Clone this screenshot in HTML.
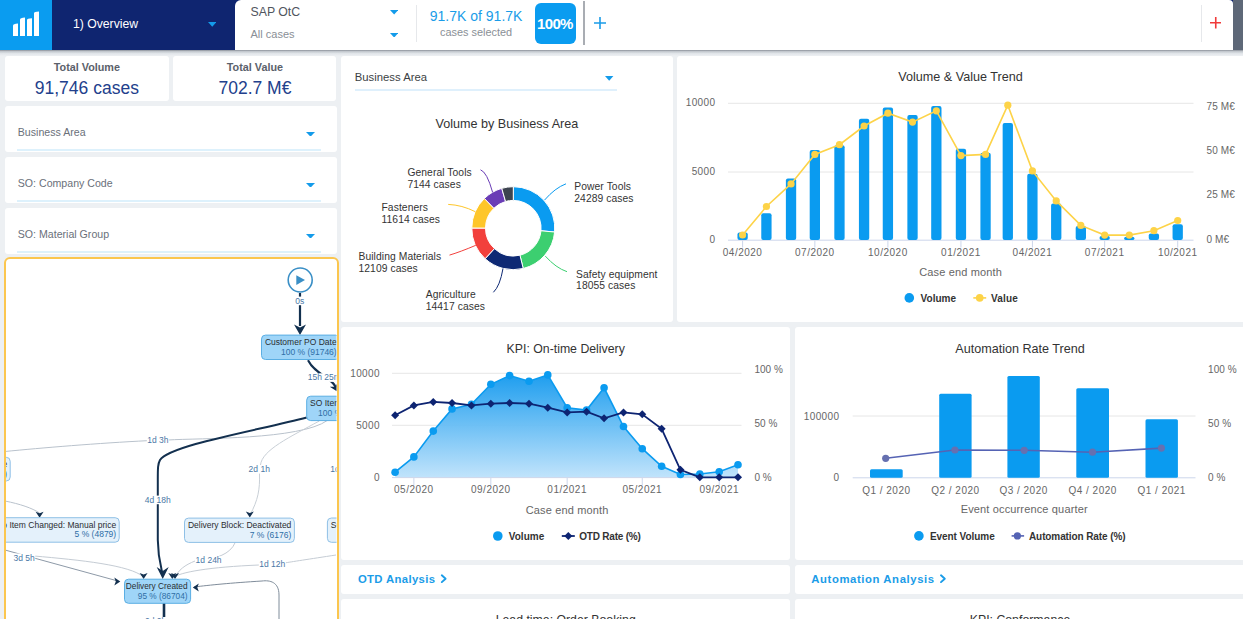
<!DOCTYPE html><html><head><meta charset="utf-8"><style>
*{margin:0;padding:0;box-sizing:border-box}
html,body{width:1243px;height:619px;overflow:hidden;background:#edf0f3;font-family:"Liberation Sans", sans-serif}
.a{position:absolute}
.card{position:absolute;background:#fff;border-radius:4px}
.t{position:absolute;white-space:nowrap;line-height:1}
svg text{font-family:"Liberation Sans", sans-serif}
</style></head><body>
<div class="card" style="left:5px;top:55.5px;width:163.7px;height:45.8px;border-radius:3px;"></div>
<div class="card" style="left:173.4px;top:55.5px;width:163.1px;height:45.8px;border-radius:3px;"></div>
<div class="card" style="left:5px;top:105.7px;width:331.5px;height:46.10000000000001px;border-radius:3px;"></div>
<div class="card" style="left:5px;top:157.4px;width:331.5px;height:45.599999999999994px;border-radius:3px;"></div>
<div class="card" style="left:5px;top:208px;width:331.5px;height:45.80000000000001px;border-radius:3px;"></div>
<div class="a" style="left:4px;top:257px;width:334.5px;height:380px;border:2px solid #fbc64f;border-radius:6px;background:#fff;overflow:hidden"></div>
<div class="card" style="left:341.2px;top:55.5px;width:331.59999999999997px;height:266.3px;border-radius:3px;"></div>
<div class="card" style="left:677.3px;top:55.5px;width:572.7px;height:266.3px;border-radius:3px;"></div>
<div class="card" style="left:341.2px;top:326.8px;width:449.00000000000006px;height:232.99999999999994px;border-radius:3px;"></div>
<div class="card" style="left:795.3px;top:326.8px;width:454.70000000000005px;height:232.99999999999994px;border-radius:3px;"></div>
<div class="card" style="left:341.2px;top:564.5px;width:449.00000000000006px;height:29.299999999999955px;border-radius:3px;"></div>
<div class="card" style="left:795.3px;top:564.5px;width:454.70000000000005px;height:29.299999999999955px;border-radius:3px;"></div>
<div class="card" style="left:341.2px;top:598.5px;width:449.00000000000006px;height:41.5px;border-radius:3px;"></div>
<div class="card" style="left:795.3px;top:598.5px;width:454.70000000000005px;height:41.5px;border-radius:3px;"></div>
<div class="a" style="left:0;top:0;width:1243px;height:50px;background:#0f2570"></div>
<div class="a" style="left:1233px;top:0;width:10px;height:50px;background:#5e6878"></div>
<div class="a" style="left:0;top:0;width:52px;height:50px;background:#0a9cf0"></div>
<div class="a" style="left:234.5px;top:0;width:998.5px;height:50px;background:#fff;border-radius:6px 4px 0 0"></div>
<div class="a" style="left:0;top:49.5px;width:1243px;height:6px;background:linear-gradient(#8a9099 0%,#c3c8ce 25%,#e2e6ea 60%,rgba(237,240,243,0) 100%)"></div>
<svg class="a" style="left:0;top:0" width="52" height="50" viewBox="0 0 52 50">
<path d="M13 25.5 Q13 24 18 23.6 L18 36 L13 36 Z" fill="#fff"/>
<path d="M20 19.5 Q20 18 25 17.6 L25 36 L20 36 Z" fill="#fff"/>
<path d="M27 20 Q27 18.6 32 18.3 L32 36 L27 36 Z" fill="#fff"/>
<path d="M34 13 Q34 11.8 39 11.4 L39 36 L34 36 Z" fill="#fff"/>
</svg>
<div class="t" style="left:73px;top:17.5px;font-size:12.2px;color:#fff">1) Overview</div>
<svg class="a" style="left:207.7px;top:21.9px" width="8.5" height="4.8"><path d="M0 0 L8.5 0 L4.25 4.8 Z" fill="#149bea"/></svg>
<div class="t" style="left:250.5px;top:6.2px;font-size:12.3px;color:#50555e">SAP OtC</div>
<div class="t" style="left:250.5px;top:29.1px;font-size:11px;color:#8a8f96">All cases</div>
<svg class="a" style="left:389.8px;top:10px" width="8.3" height="4.6"><path d="M0 0 L8.3 0 L4.15 4.6 Z" fill="#149bea"/></svg>
<svg class="a" style="left:389.8px;top:32.7px" width="8.3" height="4.6"><path d="M0 0 L8.3 0 L4.15 4.6 Z" fill="#149bea"/></svg>
<div class="a" style="left:416px;top:5px;width:1px;height:37px;background:#e6e8eb"></div>
<div class="t" style="left:429.8px;top:9px;font-size:14px;color:#1a9ce8">91.7K of 91.7K</div>
<div class="t" style="left:440px;top:27px;font-size:10.9px;color:#8a8f96">cases selected</div>
<div class="a" style="left:534.7px;top:3px;width:41.3px;height:41px;background:#0a9cf0;border-radius:6px"></div>
<div class="t" style="left:537px;top:15.6px;font-size:15px;font-weight:700;color:#fff;letter-spacing:-0.65px">100%</div>
<div class="a" style="left:583px;top:1px;width:1.6px;height:44px;background:#a9adb3"></div>
<svg class="a" style="left:594px;top:17px" width="12" height="12"><path d="M6 0V12M0 6H12" stroke="#1a9ce8" stroke-width="1.6"/></svg>
<div class="a" style="left:1200.5px;top:5px;width:1px;height:37px;background:#e6e8eb"></div>
<svg class="a" style="left:1209.5px;top:17.2px" width="11.5" height="11.5"><path d="M5.75 0V11.5M0 5.75H11.5" stroke="#f03a3a" stroke-width="1.6"/></svg>
<div class="t" style="left:5px;width:163.7px;text-align:center;top:61.5px;font-size:10.8px;font-weight:700;color:#5b616b">Total Volume</div>
<div class="t" style="left:5px;width:163.7px;text-align:center;top:80px;font-size:17.5px;color:#22408c">91,746 cases</div>
<div class="t" style="left:173.4px;width:163.1px;text-align:center;top:61.5px;font-size:10.8px;font-weight:700;color:#5b616b">Total Value</div>
<div class="t" style="left:173.4px;width:163.1px;text-align:center;top:80px;font-size:17.5px;color:#22408c">702.7 M€</div>
<div class="t" style="left:17.8px;top:127.1px;font-size:10.6px;color:#6a707a">Business Area</div>
<div class="t" style="left:17.8px;top:178.1px;font-size:10.6px;color:#6a707a">SO: Company Code</div>
<div class="t" style="left:17.8px;top:229.1px;font-size:10.6px;color:#6a707a">SO: Material Group</div>
<div class="a" style="left:17px;top:149px;width:303.5px;height:1.5px;background:#ddf1fc"></div>
<svg class="a" style="left:305.7px;top:131.7px" width="9" height="4.7"><path d="M0 0 L9 0 L4.5 4.7 Z" fill="#149bea"/></svg>
<div class="a" style="left:17px;top:200.3px;width:303.5px;height:1.5px;background:#ddf1fc"></div>
<svg class="a" style="left:305.7px;top:182.7px" width="9" height="4.7"><path d="M0 0 L9 0 L4.5 4.7 Z" fill="#149bea"/></svg>
<div class="a" style="left:17px;top:251px;width:303.5px;height:1.5px;background:#ddf1fc"></div>
<svg class="a" style="left:305.7px;top:233.7px" width="9" height="4.7"><path d="M0 0 L9 0 L4.5 4.7 Z" fill="#149bea"/></svg>
<div class="t" style="left:354.8px;top:72px;font-size:11.3px;color:#3c3f44">Business Area</div>
<div class="a" style="left:354.5px;top:89.3px;width:262px;height:1.5px;background:#dff0fc"></div>
<svg class="a" style="left:605.2px;top:76.2px" width="8.4" height="4.8"><path d="M0 0 L8.4 0 L4.2 4.8 Z" fill="#149bea"/></svg>
<div class="t" style="left:341.2px;width:331.3px;text-align:center;top:117.7px;font-size:12.6px;color:#333">Volume by Business Area</div>
<svg class="a" style="left:0;top:0" width="1243" height="619" viewBox="0 0 1243 619"><defs><clipPath id="pmc"><rect x="6" y="259" width="330.5" height="400" rx="4"/></clipPath></defs><g clip-path="url(#pmc)"><path d="M327.4 420.4 C300 440 200 438 167.8 440" fill="none" stroke="#b9c2cc" stroke-width="1"/><path d="M147.3 440.7 C100 443 40 448 5 451.5" fill="none" stroke="#b9c2cc" stroke-width="1"/><path d="M319.3 421 C290 437 262 450 260.5 465 M259.5 473 C260 490 258 500 250 515" fill="none" stroke="#c8cfd6" stroke-width="1"/><path d="M5 501 C20 504 32 508 39.6 513" fill="none" stroke="#b9c2cc" stroke-width="1"/><path d="M5 550 L34 558 L116 580.5" fill="none" stroke="#8e9aa8" stroke-width="1"/><path d="M34 556 C80 560 130 565 143.6 577" fill="none" stroke="#c5ccd4" stroke-width="1"/><path d="M235.2 542.5 C230 555 215 558 205 560 M195 561 C185 565 178 570 175 578" fill="none" stroke="#c5ccd4" stroke-width="1"/><path d="M336 555 C310 559 290 562 284.5 563 M259 565 C210 567 180 572 172.3 578" fill="none" stroke="#c5ccd4" stroke-width="1"/><path d="M279 619 L279 595 C279 582 270 580 262 581 C230 583 210 585 194 587" fill="none" stroke="#7f8c9a" stroke-width="1"/><path d="M300 293 L300 326" fill="none" stroke="#13304f" stroke-width="2.2"/><path d="M294 324.4 L300 335 L306 324.4 L300 327.5 Z" fill="#13304f"/><path d="M308 360.3 C312 368 318 372 324 376 C331 381 334 383 335.5 387" fill="none" stroke="#13304f" stroke-width="2.1"/><path d="M0 0 L-4.5 -7 L0 -5 L4.5 -7 Z" transform="translate(336.8,391.3) rotate(-25)" fill="#13304f"/><path d="M306.7 417.5 C260 430 170 445 160 460 C157.8 464 157.8 468 157.8 480 L157.8 540 C158 560 162 570 162.7 575" fill="none" stroke="#13304f" stroke-width="2"/><path d="M156.7 567 L162.7 579 L168.7 567 L162.7 571 Z" fill="#13304f"/><path d="M164 603 L164 625" fill="none" stroke="#13304f" stroke-width="2.6"/><path d="M0 0 L-4 -6 L0 -4.5 L4 -6 Z" transform="translate(39.6,517.7) rotate(0)" fill="#13304f"/><path d="M0 0 L-4 -6 L0 -4.5 L4 -6 Z" transform="translate(249.8,517.5) rotate(0)" fill="#13304f"/><path d="M0 0 L-4 -6 L0 -4.5 L4 -6 Z" transform="translate(120.3,581.4) rotate(-90)" fill="#13304f"/><path d="M0 0 L-4 -6 L0 -4.5 L4 -6 Z" transform="translate(143.6,579) rotate(0)" fill="#13304f"/><path d="M0 0 L-4 -6 L0 -4.5 L4 -6 Z" transform="translate(175,579) rotate(0)" fill="#13304f"/><path d="M0 0 L-4 -6 L0 -4.5 L4 -6 Z" transform="translate(172.3,579) rotate(0)" fill="#13304f"/><path d="M0 0 L-4 -6 L0 -4.5 L4 -6 Z" transform="translate(192.8,587.4) rotate(90)" fill="#13304f"/><rect x="294.81" y="296.6" width="9.98" height="8.6" fill="#fff"/><text x="299.8" y="303.6" font-size="8.5" fill="#4b78a6" text-anchor="middle">0s</text><rect x="307.20" y="373.3" width="34.08" height="8.6" fill="#fff"/><text x="307.7" y="380.3" font-size="8.5" fill="#4b78a6" text-anchor="start">15h 25m</text><rect x="146.80" y="436" width="22.27" height="8.6" fill="#fff"/><text x="147.3" y="443" font-size="8.5" fill="#4b78a6" text-anchor="start">1d 3h</text><rect x="248.10" y="465" width="22.27" height="8.6" fill="#fff"/><text x="248.6" y="472" font-size="8.5" fill="#4b78a6" text-anchor="start">2d 1h</text><rect x="329.80" y="464.5" width="27.00" height="8.6" fill="#fff"/><text x="330.3" y="471.5" font-size="8.5" fill="#4b78a6" text-anchor="start">1d 10h</text><rect x="144.30" y="495.6" width="27.00" height="8.6" fill="#fff"/><text x="144.8" y="502.6" font-size="8.5" fill="#4b78a6" text-anchor="start">4d 18h</text><rect x="13.00" y="553.5" width="22.27" height="8.6" fill="#fff"/><text x="13.5" y="560.5" font-size="8.5" fill="#4b78a6" text-anchor="start">3d 5h</text><rect x="195.10" y="556.4" width="27.00" height="8.6" fill="#fff"/><text x="195.6" y="563.4" font-size="8.5" fill="#4b78a6" text-anchor="start">1d 24h</text><rect x="258.80" y="560" width="27.00" height="8.6" fill="#fff"/><text x="259.3" y="567" font-size="8.5" fill="#4b78a6" text-anchor="start">1d 12h</text><circle cx="300.2" cy="280" r="12" fill="#fff" stroke="#3a8fc6" stroke-width="1.6"/><path d="M296.3 275.2 L305 280 L296.3 285 Z" fill="#3a8fc6"/><rect x="261.5" y="335.1" width="78.20" height="24.4" rx="4" fill="#9fd5f8" stroke="#5aaee3" stroke-width="1"/><text x="336.70" y="345.20000000000005" font-size="8.5" fill="#2a2d31" text-anchor="end">Customer PO Date</text><text x="336.70" y="354.6" font-size="8.5" fill="#2f6ea6" text-anchor="end">100 % (91746)</text><rect x="306.7" y="396.2" width="70.18" height="24.4" rx="4" fill="#9fd5f8" stroke="#5aaee3" stroke-width="1"/><text x="373.88" y="406.3" font-size="8.5" fill="#2a2d31" text-anchor="end">SO Item Created</text><text x="373.88" y="415.7" font-size="8.5" fill="#2f6ea6" text-anchor="end">100 % (91746)</text><rect x="-60" y="457.3" width="70.20" height="23.7" rx="4" fill="#e4f1fb" stroke="#8fc0e6" stroke-width="1"/><text x="7.20" y="467.40000000000003" font-size="8.5" fill="#2a2d31" text-anchor="end">Item Changed: Price</text><text x="7.20" y="476.8" font-size="8.5" fill="#2f6ea6" text-anchor="end">5 % (4200)</text><rect x="-10" y="517.7" width="129.20" height="24.5" rx="4" fill="#e4f1fb" stroke="#8fc0e6" stroke-width="1"/><text x="116.20" y="527.8000000000001" font-size="8.5" fill="#2a2d31" text-anchor="end">o Item Changed: Manual price</text><text x="116.20" y="537.2" font-size="8.5" fill="#2f6ea6" text-anchor="end">5 % (4879)</text><rect x="184.5" y="518.1" width="109.86" height="24.3" rx="4" fill="#e4f1fb" stroke="#8fc0e6" stroke-width="1"/><text x="291.36" y="528.2" font-size="8.5" fill="#2a2d31" text-anchor="end">Delivery Block: Deactivated</text><text x="291.36" y="537.6" font-size="8.5" fill="#2f6ea6" text-anchor="end">7 % (6176)</text><rect x="327.4" y="518" width="109.86" height="24.3" rx="4" fill="#e4f1fb" stroke="#8fc0e6" stroke-width="1"/><text x="434.26" y="528.1" font-size="8.5" fill="#2a2d31" text-anchor="end">SO Item Changed: Delivery</text><text x="434.26" y="537.5" font-size="8.5" fill="#2f6ea6" text-anchor="end">5 % (4000)</text><rect x="124.5" y="579.2" width="66.10" height="24.1" rx="4" fill="#9fd5f8" stroke="#5aaee3" stroke-width="1"/><text x="187.60" y="589.3000000000001" font-size="8.3" fill="#2a2d31" text-anchor="end">Delivery Created</text><text x="187.60" y="598.7" font-size="8.3" fill="#2f6ea6" text-anchor="end">95 % (86704)</text><rect x="144.50" y="617" width="22.27" height="8.6" fill="#fff"/><text x="145" y="624" font-size="8.5" fill="#4b78a6" text-anchor="start">0d 0h</text></g></svg>
<svg class="a" style="left:0;top:0" width="1243" height="619" viewBox="0 0 1243 619"><path d="M513.30 186.70 A41.5 41.5 0 0 1 554.62 232.04 L540.98 230.77 A27.8 27.8 0 0 0 513.30 200.40 Z" fill="#0a9bf0" stroke="#fff" stroke-width="1"/><path d="M554.62 232.04 A41.5 41.5 0 0 1 523.23 268.49 L519.95 255.19 A27.8 27.8 0 0 0 540.98 230.77 Z" fill="#3ccf70" stroke="#fff" stroke-width="1"/><path d="M523.23 268.49 A41.5 41.5 0 0 1 485.14 258.69 L494.44 248.62 A27.8 27.8 0 0 0 519.95 255.19 Z" fill="#0e2974" stroke="#fff" stroke-width="1"/><path d="M485.14 258.69 A41.5 41.5 0 0 1 471.80 228.03 L485.50 228.08 A27.8 27.8 0 0 0 494.44 248.62 Z" fill="#f2403c" stroke="#fff" stroke-width="1"/><path d="M471.80 228.03 A41.5 41.5 0 0 1 484.37 198.44 L493.92 208.27 A27.8 27.8 0 0 0 485.50 228.08 Z" fill="#fec62a" stroke="#fff" stroke-width="1"/><path d="M484.37 198.44 A41.5 41.5 0 0 1 501.75 188.34 L505.56 201.50 A27.8 27.8 0 0 0 493.92 208.27 Z" fill="#6a3db6" stroke="#fff" stroke-width="1"/><path d="M501.75 188.34 A41.5 41.5 0 0 1 513.30 186.70 L513.30 200.40 A27.8 27.8 0 0 0 505.56 201.50 Z" fill="#3d4450" stroke="#fff" stroke-width="1"/><path d="M544.6 200 Q555 188 566 183.8" fill="none" stroke="#0a9bf0" stroke-width="1"/><path d="M545.3 256.1 Q556 268 567 271.7" fill="none" stroke="#3ccf70" stroke-width="1"/><path d="M503 268.5 Q500 286 493.4 292.3" fill="none" stroke="#0e2974" stroke-width="1"/><path d="M475.8 245.3 Q460 252 449.5 255.1" fill="none" stroke="#f2403c" stroke-width="1"/><path d="M475.3 211.7 Q462 205 448.2 204.4" fill="none" stroke="#fec62a" stroke-width="1"/><path d="M492.6 192.3 Q487 172 480.5 169.8" fill="none" stroke="#6a3db6" stroke-width="1"/><text x="574.3" y="190.2" font-size="10.3" fill="#333" letter-spacing="0.08">Power Tools</text><text x="574.3" y="201.79999999999998" font-size="10.3" fill="#333" letter-spacing="0.08">24289 cases</text><text x="576.1" y="277.6" font-size="10.3" fill="#333" letter-spacing="0.08">Safety equipment</text><text x="576.1" y="289.20000000000005" font-size="10.3" fill="#333" letter-spacing="0.08">18055 cases</text><text x="425.7" y="298.2" font-size="10.3" fill="#333" letter-spacing="0.08">Agriculture</text><text x="425.7" y="309.8" font-size="10.3" fill="#333" letter-spacing="0.08">14417 cases</text><text x="358.5" y="260" font-size="10.3" fill="#333" letter-spacing="0.08">Building Materials</text><text x="358.5" y="271.6" font-size="10.3" fill="#333" letter-spacing="0.08">12109 cases</text><text x="381.5" y="210.9" font-size="10.3" fill="#333" letter-spacing="0.08">Fasteners</text><text x="381.5" y="222.5" font-size="10.3" fill="#333" letter-spacing="0.08">11614 cases</text><text x="407.4" y="176" font-size="10.3" fill="#333" letter-spacing="0.08">General Tools</text><text x="407.4" y="187.6" font-size="10.3" fill="#333" letter-spacing="0.08">7144 cases</text><text x="960.5" y="81.2" font-size="12.6" fill="#333" text-anchor="middle">Volume &amp; Value Trend</text><line x1="728" y1="103.3" x2="1193.5" y2="103.3" stroke="#e6e6e6" stroke-width="1"/><line x1="728" y1="172" x2="1193.5" y2="172" stroke="#e6e6e6" stroke-width="1"/><line x1="728" y1="240.2" x2="1193.5" y2="240.2" stroke="#ccd6eb" stroke-width="1"/><text x="715.5" y="106.2" font-size="10" fill="#666" text-anchor="end" letter-spacing="0.4">10000</text><text x="715.5" y="174.9" font-size="10" fill="#666" text-anchor="end" letter-spacing="0.4">5000</text><text x="715.5" y="243" font-size="10" fill="#666" text-anchor="end" letter-spacing="0.4">0</text><text x="1206.5" y="110.2" font-size="10" fill="#666" letter-spacing="0.1">75 M€</text><text x="1206.5" y="154.2" font-size="10" fill="#666" letter-spacing="0.1">50 M€</text><text x="1206.5" y="198.2" font-size="10" fill="#666" letter-spacing="0.1">25 M€</text><text x="1206.5" y="242.6" font-size="10" fill="#666" letter-spacing="0.1">0 M€</text><rect x="737.45" y="232.6" width="10.3" height="7.40" rx="2" fill="#0a9bf0"/><rect x="761.27" y="213.2" width="10.3" height="26.80" rx="2" fill="#0a9bf0"/><rect x="785.88" y="178.6" width="10.3" height="61.40" rx="2" fill="#0a9bf0"/><rect x="809.70" y="150" width="10.3" height="90.00" rx="2" fill="#0a9bf0"/><rect x="834.32" y="145.2" width="10.3" height="94.80" rx="2" fill="#0a9bf0"/><rect x="858.93" y="118.7" width="10.3" height="121.30" rx="2" fill="#0a9bf0"/><rect x="882.75" y="107.6" width="10.3" height="132.40" rx="2" fill="#0a9bf0"/><rect x="907.37" y="115.1" width="10.3" height="124.90" rx="2" fill="#0a9bf0"/><rect x="931.19" y="105.9" width="10.3" height="134.10" rx="2" fill="#0a9bf0"/><rect x="955.80" y="148.8" width="10.3" height="91.20" rx="2" fill="#0a9bf0"/><rect x="980.41" y="152.7" width="10.3" height="87.30" rx="2" fill="#0a9bf0"/><rect x="1002.65" y="122.9" width="10.3" height="117.10" rx="2" fill="#0a9bf0"/><rect x="1027.26" y="173.8" width="10.3" height="66.20" rx="2" fill="#0a9bf0"/><rect x="1051.08" y="203.6" width="10.3" height="36.40" rx="2" fill="#0a9bf0"/><rect x="1075.69" y="225.9" width="10.3" height="14.10" rx="2" fill="#0a9bf0"/><rect x="1099.51" y="236" width="10.3" height="4.00" rx="2" fill="#0a9bf0"/><rect x="1124.13" y="236.8" width="10.3" height="3.20" rx="2" fill="#0a9bf0"/><rect x="1148.74" y="233.6" width="10.3" height="6.40" rx="2" fill="#0a9bf0"/><rect x="1172.56" y="224.2" width="10.3" height="15.80" rx="2" fill="#0a9bf0"/><line x1="742.60" y1="240.5" x2="742.60" y2="247.5" stroke="#ccd6eb" stroke-width="1"/><line x1="814.85" y1="240.5" x2="814.85" y2="247.5" stroke="#ccd6eb" stroke-width="1"/><line x1="887.90" y1="240.5" x2="887.90" y2="247.5" stroke="#ccd6eb" stroke-width="1"/><line x1="960.95" y1="240.5" x2="960.95" y2="247.5" stroke="#ccd6eb" stroke-width="1"/><line x1="1032.41" y1="240.5" x2="1032.41" y2="247.5" stroke="#ccd6eb" stroke-width="1"/><line x1="1104.66" y1="240.5" x2="1104.66" y2="247.5" stroke="#ccd6eb" stroke-width="1"/><line x1="1177.71" y1="240.5" x2="1177.71" y2="247.5" stroke="#ccd6eb" stroke-width="1"/><text x="742.60" y="256.2" font-size="10" fill="#666" text-anchor="middle" letter-spacing="0.5">04/2020</text><text x="814.85" y="256.2" font-size="10" fill="#666" text-anchor="middle" letter-spacing="0.5">07/2020</text><text x="887.90" y="256.2" font-size="10" fill="#666" text-anchor="middle" letter-spacing="0.5">10/2020</text><text x="960.95" y="256.2" font-size="10" fill="#666" text-anchor="middle" letter-spacing="0.5">01/2021</text><text x="1032.41" y="256.2" font-size="10" fill="#666" text-anchor="middle" letter-spacing="0.5">04/2021</text><text x="1104.66" y="256.2" font-size="10" fill="#666" text-anchor="middle" letter-spacing="0.5">07/2021</text><text x="1177.71" y="256.2" font-size="10" fill="#666" text-anchor="middle" letter-spacing="0.5">10/2021</text><polyline points="742.60,235 766.42,206.5 791.03,183.9 814.85,154.4 839.47,144.7 864.08,126 887.90,113.2 912.52,122.1 936.34,110.8 960.95,155.6 985.56,154.4 1007.80,105.2 1032.41,170.9 1056.23,200.9 1080.84,225.4 1104.66,235.1 1129.28,235.1 1153.89,230.7 1177.71,220.5" fill="none" stroke="#fdd348" stroke-width="1.6"/><circle cx="742.60" cy="235" r="3.6" fill="#fdd348"/><circle cx="766.42" cy="206.5" r="3.6" fill="#fdd348"/><circle cx="791.03" cy="183.9" r="3.6" fill="#fdd348"/><circle cx="814.85" cy="154.4" r="3.6" fill="#fdd348"/><circle cx="839.47" cy="144.7" r="3.6" fill="#fdd348"/><circle cx="864.08" cy="126" r="3.6" fill="#fdd348"/><circle cx="887.90" cy="113.2" r="3.6" fill="#fdd348"/><circle cx="912.52" cy="122.1" r="3.6" fill="#fdd348"/><circle cx="936.34" cy="110.8" r="3.6" fill="#fdd348"/><circle cx="960.95" cy="155.6" r="3.6" fill="#fdd348"/><circle cx="985.56" cy="154.4" r="3.6" fill="#fdd348"/><circle cx="1007.80" cy="105.2" r="3.6" fill="#fdd348"/><circle cx="1032.41" cy="170.9" r="3.6" fill="#fdd348"/><circle cx="1056.23" cy="200.9" r="3.6" fill="#fdd348"/><circle cx="1080.84" cy="225.4" r="3.6" fill="#fdd348"/><circle cx="1104.66" cy="235.1" r="3.6" fill="#fdd348"/><circle cx="1129.28" cy="235.1" r="3.6" fill="#fdd348"/><circle cx="1153.89" cy="230.7" r="3.6" fill="#fdd348"/><circle cx="1177.71" cy="220.5" r="3.6" fill="#fdd348"/><text x="960.6" y="275.6" font-size="11" fill="#666" text-anchor="middle" letter-spacing="0.15">Case end month</text><circle cx="909.3" cy="297.9" r="4.8" fill="#0a9bf0"/><text x="920.5" y="302" font-size="10" font-weight="700" fill="#333" letter-spacing="0.05">Volume</text><line x1="973.3" y1="297.9" x2="986.2" y2="297.9" stroke="#fdd348" stroke-width="1.6"/><circle cx="979.7" cy="297.9" r="3.8" fill="#fdd348"/><text x="991" y="302" font-size="10" font-weight="700" fill="#333" letter-spacing="0.2">Value</text><text x="565.7" y="352.9" font-size="12.3" fill="#333" text-anchor="middle">KPI: On-time Delivery</text><line x1="392" y1="373.3" x2="741.5" y2="373.3" stroke="#e6e6e6" stroke-width="1"/><line x1="392" y1="425.3" x2="741.5" y2="425.3" stroke="#e6e6e6" stroke-width="1"/><text x="380" y="376.5" font-size="10" fill="#666" text-anchor="end" letter-spacing="0.4">10000</text><text x="380" y="428.5" font-size="10" fill="#666" text-anchor="end" letter-spacing="0.4">5000</text><text x="380" y="480.5" font-size="10" fill="#666" text-anchor="end" letter-spacing="0.4">0</text><text x="754.4" y="373" font-size="10" fill="#666" letter-spacing="0.05">100 %</text><text x="754.4" y="427" font-size="10" fill="#666" letter-spacing="0.05">50 %</text><text x="754.4" y="480.5" font-size="10" fill="#666" letter-spacing="0.05">0 %</text><defs><linearGradient id="ga" x1="0" y1="0" x2="0" y2="1"><stop offset="0" stop-color="#1399ee"/><stop offset="1" stop-color="#bde2fb"/></linearGradient></defs><path d="M395.10 472.2 L413.87 456.9 L433.27 431.1 L452.04 408.9 L471.44 404.2 L490.83 384.3 L509.60 375.6 L529.00 381.2 L547.77 374.9 L567.17 407.7 L586.56 410.1 L604.08 387.8 L623.48 426.5 L642.25 448.7 L661.65 466.3 L680.42 474.5 L699.82 474 L719.21 471.7 L737.98 464.7 L737.98 477.3 L395.10 477.3 Z" fill="url(#ga)" opacity="0.95"/><line x1="392" y1="477.6" x2="741.5" y2="477.6" stroke="#ccd6eb" stroke-width="1"/><line x1="413.87" y1="478" x2="413.87" y2="485" stroke="#ccd6eb" stroke-width="1"/><line x1="490.83" y1="478" x2="490.83" y2="485" stroke="#ccd6eb" stroke-width="1"/><line x1="567.17" y1="478" x2="567.17" y2="485" stroke="#ccd6eb" stroke-width="1"/><line x1="642.25" y1="478" x2="642.25" y2="485" stroke="#ccd6eb" stroke-width="1"/><line x1="719.21" y1="478" x2="719.21" y2="485" stroke="#ccd6eb" stroke-width="1"/><text x="413.87" y="493.2" font-size="10" fill="#666" text-anchor="middle" letter-spacing="0.5">05/2020</text><text x="490.83" y="493.2" font-size="10" fill="#666" text-anchor="middle" letter-spacing="0.5">09/2020</text><text x="567.17" y="493.2" font-size="10" fill="#666" text-anchor="middle" letter-spacing="0.5">01/2021</text><text x="642.25" y="493.2" font-size="10" fill="#666" text-anchor="middle" letter-spacing="0.5">05/2021</text><text x="719.21" y="493.2" font-size="10" fill="#666" text-anchor="middle" letter-spacing="0.5">09/2021</text><polyline points="395.10,472.2 413.87,456.9 433.27,431.1 452.04,408.9 471.44,404.2 490.83,384.3 509.60,375.6 529.00,381.2 547.77,374.9 567.17,407.7 586.56,410.1 604.08,387.8 623.48,426.5 642.25,448.7 661.65,466.3 680.42,474.5 699.82,474 719.21,471.7 737.98,464.7" fill="none" stroke="#0a9bf0" stroke-width="1.6"/><circle cx="395.10" cy="472.2" r="3.8" fill="#0a9bf0"/><circle cx="413.87" cy="456.9" r="3.8" fill="#0a9bf0"/><circle cx="433.27" cy="431.1" r="3.8" fill="#0a9bf0"/><circle cx="452.04" cy="408.9" r="3.8" fill="#0a9bf0"/><circle cx="471.44" cy="404.2" r="3.8" fill="#0a9bf0"/><circle cx="490.83" cy="384.3" r="3.8" fill="#0a9bf0"/><circle cx="509.60" cy="375.6" r="3.8" fill="#0a9bf0"/><circle cx="529.00" cy="381.2" r="3.8" fill="#0a9bf0"/><circle cx="547.77" cy="374.9" r="3.8" fill="#0a9bf0"/><circle cx="567.17" cy="407.7" r="3.8" fill="#0a9bf0"/><circle cx="586.56" cy="410.1" r="3.8" fill="#0a9bf0"/><circle cx="604.08" cy="387.8" r="3.8" fill="#0a9bf0"/><circle cx="623.48" cy="426.5" r="3.8" fill="#0a9bf0"/><circle cx="642.25" cy="448.7" r="3.8" fill="#0a9bf0"/><circle cx="661.65" cy="466.3" r="3.8" fill="#0a9bf0"/><circle cx="680.42" cy="474.5" r="3.8" fill="#0a9bf0"/><circle cx="699.82" cy="474" r="3.8" fill="#0a9bf0"/><circle cx="719.21" cy="471.7" r="3.8" fill="#0a9bf0"/><circle cx="737.98" cy="464.7" r="3.8" fill="#0a9bf0"/><polyline points="395.10,415.2 413.87,405.4 433.27,401.9 452.04,403 471.44,405.4 490.83,403.7 509.60,403 529.00,403.7 547.77,407.7 567.17,412.4 586.56,411.7 604.08,418.3 623.48,412.4 642.25,414.3 661.65,428.8 680.42,469.8 699.82,477.3 719.21,477.3 737.98,477.3" fill="none" stroke="#0d2472" stroke-width="1.8"/><path d="M395.10 411.2 L399.10 415.2 L395.10 419.2 L391.10 415.2 Z" fill="#0d2472"/><path d="M413.87 401.4 L417.87 405.4 L413.87 409.4 L409.87 405.4 Z" fill="#0d2472"/><path d="M433.27 397.9 L437.27 401.9 L433.27 405.9 L429.27 401.9 Z" fill="#0d2472"/><path d="M452.04 399 L456.04 403 L452.04 407 L448.04 403 Z" fill="#0d2472"/><path d="M471.44 401.4 L475.44 405.4 L471.44 409.4 L467.44 405.4 Z" fill="#0d2472"/><path d="M490.83 399.7 L494.83 403.7 L490.83 407.7 L486.83 403.7 Z" fill="#0d2472"/><path d="M509.60 399 L513.60 403 L509.60 407 L505.60 403 Z" fill="#0d2472"/><path d="M529.00 399.7 L533.00 403.7 L529.00 407.7 L525.00 403.7 Z" fill="#0d2472"/><path d="M547.77 403.7 L551.77 407.7 L547.77 411.7 L543.77 407.7 Z" fill="#0d2472"/><path d="M567.17 408.4 L571.17 412.4 L567.17 416.4 L563.17 412.4 Z" fill="#0d2472"/><path d="M586.56 407.7 L590.56 411.7 L586.56 415.7 L582.56 411.7 Z" fill="#0d2472"/><path d="M604.08 414.3 L608.08 418.3 L604.08 422.3 L600.08 418.3 Z" fill="#0d2472"/><path d="M623.48 408.4 L627.48 412.4 L623.48 416.4 L619.48 412.4 Z" fill="#0d2472"/><path d="M642.25 410.3 L646.25 414.3 L642.25 418.3 L638.25 414.3 Z" fill="#0d2472"/><path d="M661.65 424.8 L665.65 428.8 L661.65 432.8 L657.65 428.8 Z" fill="#0d2472"/><path d="M680.42 465.8 L684.42 469.8 L680.42 473.8 L676.42 469.8 Z" fill="#0d2472"/><path d="M699.82 473.3 L703.82 477.3 L699.82 481.3 L695.82 477.3 Z" fill="#0d2472"/><path d="M719.21 473.3 L723.21 477.3 L719.21 481.3 L715.21 477.3 Z" fill="#0d2472"/><path d="M737.98 473.3 L741.98 477.3 L737.98 481.3 L733.98 477.3 Z" fill="#0d2472"/><text x="567.1" y="513.5" font-size="11" fill="#666" text-anchor="middle" letter-spacing="0.15">Case end month</text><circle cx="497.8" cy="536" r="4.8" fill="#0a9bf0"/><text x="508.7" y="540" font-size="10" font-weight="700" fill="#333" letter-spacing="0.05">Volume</text><line x1="561.8" y1="536" x2="574.8" y2="536" stroke="#0d2472" stroke-width="1.8"/><path d="M568.3 532 L572.3 536 L568.3 540 L564.3 536 Z" fill="#0d2472"/><text x="579.2" y="540" font-size="10" font-weight="700" fill="#333" letter-spacing="-0.2">OTD Rate (%)</text><text x="1020" y="352.9" font-size="12.6" fill="#333" text-anchor="middle">Automation Rate Trend</text><line x1="852.7" y1="416" x2="1195.5" y2="416" stroke="#e6e6e6" stroke-width="1"/><line x1="852.7" y1="477.8" x2="1195.5" y2="477.8" stroke="#ccd6eb" stroke-width="1"/><text x="839.5" y="419.5" font-size="10" fill="#666" text-anchor="end" letter-spacing="0.4">100000</text><text x="839.5" y="481.3" font-size="10" fill="#666" text-anchor="end" letter-spacing="0.4">0</text><text x="1208.1" y="373.3" font-size="10" fill="#666" letter-spacing="0.05">100 %</text><text x="1208.1" y="427" font-size="10" fill="#666" letter-spacing="0.05">50 %</text><text x="1208.1" y="480.5" font-size="10" fill="#666" letter-spacing="0.05">0 %</text><rect x="870" y="469.3" width="32.70" height="8.50" rx="1.5" fill="#0a9bf0"/><rect x="939.2" y="393.7" width="32.40" height="84.10" rx="1.5" fill="#0a9bf0"/><rect x="1007.4" y="376.1" width="32.40" height="101.70" rx="1.5" fill="#0a9bf0"/><rect x="1076.3" y="388.2" width="32.70" height="89.60" rx="1.5" fill="#0a9bf0"/><rect x="1145.5" y="419.2" width="32.40" height="58.60" rx="1.5" fill="#0a9bf0"/><text x="886.35" y="494.3" font-size="10" fill="#666" text-anchor="middle" letter-spacing="0.5">Q1 / 2020</text><text x="955.40" y="494.3" font-size="10" fill="#666" text-anchor="middle" letter-spacing="0.5">Q2 / 2020</text><text x="1023.60" y="494.3" font-size="10" fill="#666" text-anchor="middle" letter-spacing="0.5">Q3 / 2020</text><text x="1092.65" y="494.3" font-size="10" fill="#666" text-anchor="middle" letter-spacing="0.5">Q4 / 2020</text><text x="1161.70" y="494.3" font-size="10" fill="#666" text-anchor="middle" letter-spacing="0.5">Q1 / 2021</text><polyline points="885.7,458.3 954.9,450 1024.2,450.3 1092.5,452.2 1161.4,448.1" fill="none" stroke="#5563b4" stroke-width="1.6"/><circle cx="885.7" cy="458.3" r="3.6" fill="#6670b0"/><circle cx="954.9" cy="450" r="3.6" fill="#6670b0"/><circle cx="1024.2" cy="450.3" r="3.6" fill="#6670b0"/><circle cx="1092.5" cy="452.2" r="3.6" fill="#6670b0"/><circle cx="1161.4" cy="448.1" r="3.6" fill="#6670b0"/><text x="1024.2" y="513.3" font-size="11" fill="#666" text-anchor="middle" letter-spacing="0.15">Event occurrence quarter</text><circle cx="918.9" cy="535.9" r="4.8" fill="#0a9bf0"/><text x="929.9" y="540" font-size="10" font-weight="700" fill="#333" letter-spacing="-0.05">Event Volume</text><line x1="1011.6" y1="535.9" x2="1024.1" y2="535.9" stroke="#5563b4" stroke-width="1.6"/><circle cx="1017.4" cy="535.9" r="3.6" fill="#5563b4"/><text x="1029" y="540" font-size="10" font-weight="700" fill="#333" letter-spacing="-0.1">Automation Rate (%)</text><text x="357.9" y="583.2" font-size="11.3" font-weight="700" fill="#1a9ce8" letter-spacing="0.37">OTD Analysis</text><path d="M441.8 575.3 L445.6 578.7 L441.8 582.1" fill="none" stroke="#1a9ce8" stroke-width="1.9" stroke-linecap="round" stroke-linejoin="round"/><text x="811.3" y="583.2" font-size="11.3" font-weight="700" fill="#1a9ce8" letter-spacing="0.6">Automation Analysis</text><path d="M941 575.3 L944.8 578.7 L941 582.1" fill="none" stroke="#1a9ce8" stroke-width="1.9" stroke-linecap="round" stroke-linejoin="round"/><text x="565.7" y="624" font-size="12.3" fill="#333" text-anchor="middle">Lead time: Order Booking</text><text x="1020" y="624" font-size="12.3" fill="#333" text-anchor="middle">KPI: Conformance</text></svg>
</body></html>
